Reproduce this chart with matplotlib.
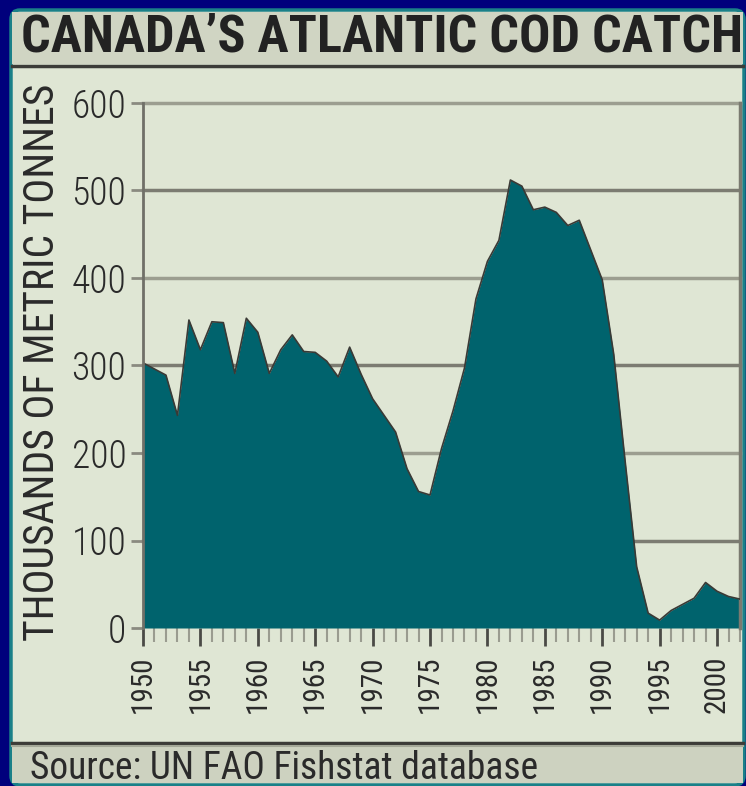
import os
import matplotlib
matplotlib.use("Agg")
import matplotlib.pyplot as plt
from matplotlib import font_manager as fm
from matplotlib.patches import FancyBboxPatch, Rectangle
from matplotlib.lines import Line2D
from matplotlib.ticker import MultipleLocator

# ---------------- data ----------------
years = list(range(1950, 2003))
catch = [303, 296, 289, 243, 352, 318, 350, 349, 291, 354,
         338, 291, 318, 335, 316, 315, 305, 287, 321, 290,
         262, 243, 224, 182, 156, 152, 205, 248, 297, 376,
         419, 443, 512, 505, 478, 481, 475, 460, 466, 432,
         398, 313, 190, 70, 17, 9, 20, 27, 34, 52,
         42, 36, 33]
y_ticks = [0, 100, 200, 300, 400, 500, 600]
x_ticks = [1950, 1955, 1960, 1965, 1970, 1975, 1980, 1985, 1990, 1995, 2000]
title_text = "CANADA\u2019S ATLANTIC COD CATCH"
ylabel_text = "THOUSANDS OF METRIC TONNES"
source_text = "Source: UN FAO Fishstat database"


# ---------------- fonts ----------------
def find_font(cands):
    files = [f.fname for f in fm.fontManager.ttflist]
    for c in cands:
        for fn in files:
            if os.path.basename(fn).lower().startswith(c):
                return fm.FontProperties(fname=fn)
    return None

reg = find_font(["robotocondensed-regular", "liberationsansnarrow-regular",
                 "notosans-condensed.", "dejavusanscondensed.",
                 "opensans_condensed-regular", "opensans-condensed"])
light = find_font(["robotocondensed-light.", "notosans-condensedlight.",
                   "liberationsansnarrow-regular", "dejavusanscondensed."]) or reg
bold = find_font(["robotocondensed-bold.", "liberationsansnarrow-bold.",
                  "notosans-condensedbold.", "dejavusanscondensed-bold",
                  "opensans_condensed-bold", "opensans-condbold"])
if reg is None:
    reg = fm.FontProperties(family="DejaVu Sans")
if light is None:
    light = reg
if bold is None:
    bold = fm.FontProperties(family="DejaVu Sans", weight="bold")


def fp(base, size):
    p = base.copy()
    p.set_size(size)
    return p


W, H = 746, 786
fig = plt.figure(figsize=(W / 100, H / 100), dpi=100)
fig.patch.set_facecolor("#00007c")

def fx(px):
    return px / W

def fy(py):
    return 1 - py / H

# panel
panel = FancyBboxPatch((fx(11), fy(785)), fx(744) - fx(11), fy(10) - fy(785),
                       boxstyle="round,pad=0,rounding_size=0.012",
                       transform=fig.transFigure, facecolor="#dfe6d4",
                       edgecolor="#1a8088", linewidth=2.5, zorder=0)
fig.patches.append(panel)
# title bar
fig.patches.append(Rectangle((fx(12), fy(64)), fx(743) - fx(12), fy(12) - fy(64),
                             transform=fig.transFigure, facecolor="#d0d5c3",
                             edgecolor="none", zorder=0.5))
fig.lines.append(Line2D([fx(12), fx(743)], [fy(66), fy(66)], transform=fig.transFigure,
                        color="#3c3c38", linewidth=2.5, zorder=1))
# source bar
fig.patches.append(Rectangle((fx(12), fy(783)), fx(743) - fx(12), fy(745) - fy(783),
                             transform=fig.transFigure, facecolor="#cdd2c0",
                             edgecolor="none", zorder=0.5))
fig.lines.append(Line2D([fx(12), fx(743)], [fy(743), fy(743)], transform=fig.transFigure,
                        color="#3c3c38", linewidth=2.5, zorder=1))
fig.lines.append(Line2D([fx(12), fx(743)], [fy(746), fy(746)], transform=fig.transFigure,
                        color="#a4a898", linewidth=1.5, zorder=1))

# texts
fig.text(fx(382), fy(38), title_text, ha="center", va="center",
         fontproperties=fp(bold, 37.5), color="#222222", zorder=3)
fig.text(fx(30), fy(779), source_text, ha="left", va="baseline",
         fontproperties=fp(reg, 27), color="#2a2a2a", zorder=3)

# ---------------- axes ----------------
ax = fig.add_axes([fx(143), fy(628), fx(740) - fx(143), fy(103) - fy(628)])
ax.set_zorder(2)
ax.set_facecolor("none")
ax.set_xlim(1950, 2002)
ax.set_ylim(0, 600)

for i, v in enumerate(y_ticks[1:]):
    ax.axhline(v, color="#7c7c72" if i % 2 == 0 else "#9c9e90", linewidth=2.5, zorder=1,
               clip_on=False)

ax.fill_between(years, catch, 0, color="#00636d", zorder=2, linewidth=0)
ax.plot(years, catch, color="#3a3a36", linewidth=1.2, zorder=3)

for s in ["top", "bottom"]:
    ax.spines[s].set_visible(False)
ax.spines["left"].set_color("#707068")
ax.spines["left"].set_linewidth(2)
ax.spines["right"].set_color("#7a7a70")
ax.spines["right"].set_linewidth(2.5)
ax.spines["left"].set_zorder(4)

ax.set_yticks(y_ticks)
ax.set_yticklabels([str(v) for v in y_ticks])
ax.tick_params(axis="y", direction="out", length=9, width=2, color="#8a8a80", pad=3)
for lab in ax.get_yticklabels():
    lab.set_fontproperties(fp(light, 27))
    lab.set_color("#2a2a2a")

ax.set_xticks(x_ticks)
ax.set_xticklabels([str(v) for v in x_ticks], rotation=90)
ax.xaxis.set_minor_locator(MultipleLocator(1))
ax.tick_params(axis="x", which="major", direction="out", length=13, width=2,
               color="#4a4a46", pad=7)
ax.tick_params(axis="x", which="minor", direction="out", length=10, width=1.5,
               color="#9a9c90")
for lab in ax.get_xticklabels():
    lab.set_fontproperties(fp(reg, 21))
    lab.set_color("#2a2a2a")

fig.text(fx(43), fy(362), ylabel_text, rotation=90, ha="center", va="center",
         fontproperties=fp(reg, 30), color="#2a2a2a", zorder=3)

fig.savefig("out.png", dpi=100, facecolor=fig.get_facecolor())
